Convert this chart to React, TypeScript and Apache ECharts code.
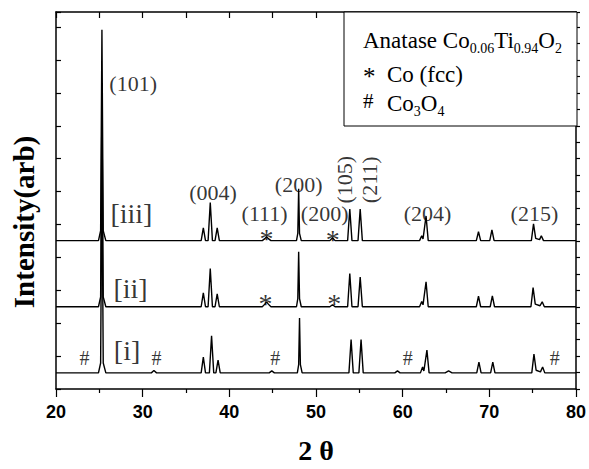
import React, { useEffect, useRef } from 'react';
import * as echarts from 'echarts';

// Vertical offsets of the stacked patterns [i], [ii], [iii]
const offsets = [49, 250, 451];

// Pattern points [2θ, raw intensity]
const traceI: [number, number][] = [
  [20, 0], [24.9, 0], [25.15, 30], [25.3, 641], [25.45, 30], [25.75, 0],
  [31.0, 0], [31.3, 7], [31.6, 0],
  [36.75, 0], [37.0, 48], [37.25, 0], [37.7, 0], [37.95, 113], [38.2, 0], [38.45, 0], [38.7, 39], [38.95, 0],
  [44.6, 0], [44.9, 6], [45.2, 0],
  [47.85, 0], [48.0, 25], [48.1, 167], [48.2, 25], [48.4, 0],
  [53.8, 0], [54.05, 101], [54.3, 0], [54.95, 0], [55.2, 101], [55.45, 0],
  [59.1, 0], [59.4, 6], [59.7, 0],
  [62.05, 0], [62.3, 18], [62.45, 6], [62.8, 69], [63.05, 0],
  [64.9, 0], [65.3, 6], [65.7, 0],
  [68.55, 0], [68.8, 33], [69.05, 0],
  [70.15, 0], [70.4, 33], [70.65, 0],
  [74.9, 0], [75.15, 57], [75.4, 8], [75.9, 3], [76.15, 18], [76.4, 0], [80, 0],
];

const traceII: [number, number][] = [
  [20, 0], [24.9, 0], [25.15, 30], [25.3, 641], [25.45, 30], [25.75, 0],
  [36.75, 0], [37.0, 42], [37.25, 0], [37.55, 0], [37.8, 116], [38.05, 0], [38.35, 0], [38.6, 39], [38.85, 0],
  [43.8, 0], [44.1, 8], [44.3, 15], [44.5, 8], [44.8, 0],
  [47.75, 0], [47.9, 25], [48.0, 167], [48.1, 25], [48.3, 0],
  [51.6, 0], [51.9, 6], [52.2, 0],
  [53.65, 0], [53.9, 101], [54.15, 0], [54.85, 0], [55.1, 90], [55.35, 0],
  [61.95, 0], [62.2, 16], [62.35, 6], [62.7, 76], [62.95, 0],
  [68.5, 0], [68.75, 32], [69.0, 0],
  [70.1, 0], [70.35, 33], [70.6, 0],
  [74.8, 0], [75.05, 58], [75.3, 8], [75.85, 3], [76.1, 15], [76.35, 0], [80, 0],
];

const traceIII: [number, number][] = [
  [20, 0], [24.9, 0], [25.15, 30], [25.3, 641], [25.45, 30], [25.75, 0],
  [36.75, 0], [37.0, 39], [37.25, 0], [37.55, 0], [37.8, 116], [38.05, 0], [38.35, 0], [38.6, 39], [38.85, 0],
  [43.8, 0], [44.1, 6], [44.3, 12], [44.5, 6], [44.8, 0],
  [47.75, 0], [47.9, 22], [48.0, 158], [48.1, 22], [48.3, 0],
  [51.6, 0], [51.9, 9], [52.2, 0],
  [53.65, 0], [53.9, 96], [54.15, 0], [54.85, 0], [55.1, 96], [55.35, 0],
  [61.95, 0], [62.2, 15], [62.35, 5], [62.7, 75], [62.95, 0],
  [68.5, 0], [68.75, 27], [69.0, 0],
  [70.05, 0], [70.3, 33], [70.55, 0],
  [74.85, 0], [75.1, 51], [75.35, 7], [75.8, 3], [76.0, 15], [76.25, 0], [80, 0],
];

const traces = [traceI, traceII, traceIII];

// Annotations [text, 2θ, intensity]
const millerLabels: [string, number, number][] = [
  ['(101)', 28.9, 928],
  ['(004)', 38.13, 597],
  ['(111)', 44.07, 534],
  ['(200)', 48.0, 621],
  ['(200)', 51.0, 534],
  ['(204)', 62.87, 535],
  ['(215)', 75.2, 535],
];
const rotatedLabels: [string, number, number][] = [
  ['(105)', 53.3, 636],
  ['(211)', 56.2, 636],
];
const traceLabels: [string, number, number][] = [
  ['[iii]', 28.7, 535],
  ['[ii]', 28.6, 306],
  ['[i]', 28.2, 117],
];
const coMarks: [string, number, number][] = [
  ['*', 44.3, 472],
  ['*', 51.93, 471],
  ['*', 44.16, 275],
  ['*', 52.1, 275],
];
const co3o4Marks: [string, number, number][] = [
  ['#', 23.3, 93],
  ['#', 31.6, 93],
  ['#', 45.3, 93],
  ['#', 60.6, 93],
  ['#', 77.55, 93],
];

const xTickInterval = 10;
const yMax = 1146;

export default function App() {
  const ref = useRef<HTMLDivElement>(null);

  useEffect(() => {
    const chart = echarts.init(ref.current!, null, { renderer: 'svg' });
    const serif = 'Liberation Serif';
    const sans = 'Liberation Sans';
    const black = '#000';

    const labelSeries = (items: [string, number, number][], fontSize: number, extra: any = {}) => ({
      type: 'scatter',
      silent: true,
      symbolSize: 0.1,
      itemStyle: { color: 'rgba(0,0,0,0)' },
      xAxisIndex: 0,
      yAxisIndex: 0,
      z: 5,
      data: items.map(([t, x, y]) => ({ value: [x, y], name: t })),
      label: {
        show: true,
        position: 'inside',
        formatter: (p: any) => p.name,
        color: black,
        textBorderWidth: 0,
        fontFamily: serif,
        fontSize,
        ...extra,
      },
    });

    const axisLine = { show: true, onZero: false, lineStyle: { color: black, width: 1.5 } };

    chart.setOption({
      animation: false,
      backgroundColor: '#fff',
      grid: { left: 56, right: 12, top: 12, bottom: 73, containLabel: false },
      xAxis: [
        {
          type: 'value',
          min: 20,
          max: 80,
          interval: xTickInterval,
          position: 'bottom',
          axisLine,
          axisTick: { show: true, inside: false, length: 8, lineStyle: { color: black, width: 1.2 } },
          minorTick: { show: true, splitNumber: 2, length: 4, lineStyle: { color: black, width: 1.2 } },
          axisLabel: {
            color: black,
            fontFamily: sans,
            fontWeight: 'bold',
            fontSize: 18,
            margin: 14,
          },
          splitLine: { show: false },
          name: '2 θ',
          nameLocation: 'middle',
          nameGap: 47,
          nameTextStyle: { fontFamily: serif, fontWeight: 'bold', fontSize: 28, color: black },
        },
        {
          type: 'value',
          min: 20,
          max: 80,
          interval: 5,
          position: 'top',
          axisLine,
          axisTick: { show: true, inside: true, length: 6, lineStyle: { color: black, width: 1.2 } },
          axisLabel: { show: false },
          splitLine: { show: false },
        },
      ],
      yAxis: [
        {
          type: 'value',
          min: 0,
          max: yMax,
          interval: 100,
          position: 'left',
          axisLine,
          axisTick: { show: true, inside: true, length: 5, lineStyle: { color: black, width: 1.2 } },
          axisLabel: { show: false },
          splitLine: { show: false },
        },
        {
          type: 'value',
          min: 0,
          max: yMax,
          interval: 50,
          position: 'right',
          axisLine,
          axisTick: { show: true, inside: false, length: 4, lineStyle: { color: black, width: 1.2 } },
          axisLabel: { show: false },
          splitLine: { show: false },
        },
      ],
      series: [
        ...traces.map((pts, i) => ({
          type: 'line',
          silent: true,
          xAxisIndex: 0,
          yAxisIndex: 0,
          symbol: 'none',
          showSymbol: false,
          z: 3,
          lineStyle: { color: black, width: 1.4 },
          data: pts.map(([x, y]) => [x, y + offsets[i]]),
        })),
        labelSeries(millerLabels, 22),
        labelSeries(rotatedLabels, 22, { rotate: 90 }),
        labelSeries(traceLabels, 28),
        labelSeries(coMarks, 28, { offset: [0, 5], lineHeight: 12 }),
        labelSeries(co3o4Marks, 20),
      ],
      graphic: [
        {
          type: 'rect',
          z: 10,
          shape: { x: 344, y: 12, width: 233, height: 114 },
          style: { fill: '#fff', stroke: black, lineWidth: 1 },
        },
        {
          type: 'text',
          z: 11,
          x: 363,
          y: 40,
          style: {
            text: '{n|Anatase Co}{s|0.06}{n|Ti}{s|0.94}{n|O}{s|2}',
            verticalAlign: 'middle',
            rich: {
              n: { fontSize: 23, fontFamily: serif, fill: black, lineHeight: 30 },
              s: { fontSize: 14, fontFamily: serif, fill: black, lineHeight: 14, verticalAlign: 'bottom' },
            },
          },
        },
        {
          type: 'text',
          z: 11,
          x: 363,
          y: 76,
          style: { text: '*', fontSize: 25, lineHeight: 12, fontFamily: serif, fill: black, verticalAlign: 'middle' },
        },
        {
          type: 'text',
          z: 11,
          x: 387,
          y: 74,
          style: { text: 'Co (fcc)', fontSize: 23, fontFamily: serif, fill: black, verticalAlign: 'middle' },
        },
        {
          type: 'text',
          z: 11,
          x: 363,
          y: 101,
          style: { text: '#', fontSize: 21, lineHeight: 16, fontFamily: serif, fill: black, verticalAlign: 'middle' },
        },
        {
          type: 'text',
          z: 11,
          x: 387,
          y: 103,
          style: {
            text: '{n|Co}{s|3}{n|O}{s|4}',
            verticalAlign: 'middle',
            rich: {
              n: { fontSize: 23, fontFamily: serif, fill: black, lineHeight: 30 },
              s: { fontSize: 14, fontFamily: serif, fill: black, lineHeight: 14, verticalAlign: 'bottom' },
            },
          },
        },
        {
          type: 'text',
          z: 11,
          x: 24,
          y: 222,
          rotation: Math.PI / 2,
          style: {
            text: 'Intensity(arb)',
            fontSize: 29,
            fontWeight: 'bold',
            fontFamily: serif,
            fill: black,
            align: 'center',
            verticalAlign: 'middle',
          },
        },
      ],
    });

    return () => chart.dispose();
  }, []);

  return (
    <div
      ref={ref}
      style={{ position: 'fixed', left: 0, top: 0, width: 589, height: 469, background: '#fff' }}
    />
  );
}
